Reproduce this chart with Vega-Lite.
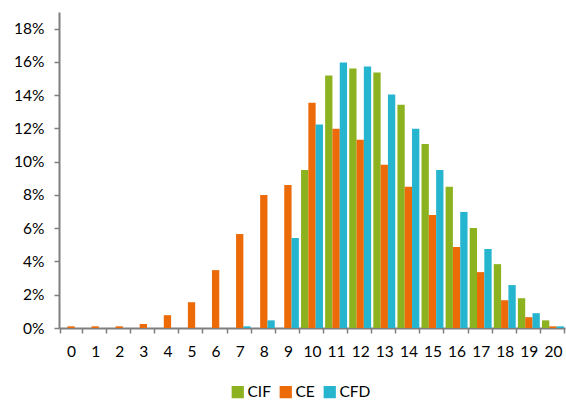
{
  "$schema": "https://vega.github.io/schema/vega-lite/v6.json",
  "autosize": {"type": "none"},
  "width": 506,
  "height": 316,
  "padding": {"left": 59, "top": 12, "right": 1, "bottom": 73},
  "config": {
    "font": "Lato",
    "view": {"stroke": null},
    "axis": {"labelFont": "Lato", "labelFontSize": 15.5, "labelColor": "#000000", "domainColor": "#7f7f7f", "domainWidth": 2, "tickColor": "#7f7f7f", "tickWidth": 1.5, "grid": false, "title": null}
  },
  "data": {"values": [
    {"k": 0, "s": "CIF", "v": 0}, {"k": 0, "s": "CE", "v": 0.001}, {"k": 0, "s": "CFD", "v": 0},
    {"k": 1, "s": "CIF", "v": 0}, {"k": 1, "s": "CE", "v": 0.001}, {"k": 1, "s": "CFD", "v": 0},
    {"k": 2, "s": "CIF", "v": 0}, {"k": 2, "s": "CE", "v": 0.001}, {"k": 2, "s": "CFD", "v": 0},
    {"k": 3, "s": "CIF", "v": 0}, {"k": 3, "s": "CE", "v": 0.0024}, {"k": 3, "s": "CFD", "v": 0},
    {"k": 4, "s": "CIF", "v": 0}, {"k": 4, "s": "CE", "v": 0.0077}, {"k": 4, "s": "CFD", "v": 0},
    {"k": 5, "s": "CIF", "v": 0}, {"k": 5, "s": "CE", "v": 0.0155}, {"k": 5, "s": "CFD", "v": 0},
    {"k": 6, "s": "CIF", "v": 0}, {"k": 6, "s": "CE", "v": 0.0348}, {"k": 6, "s": "CFD", "v": 0},
    {"k": 7, "s": "CIF", "v": 0}, {"k": 7, "s": "CE", "v": 0.0565}, {"k": 7, "s": "CFD", "v": 0.001},
    {"k": 8, "s": "CIF", "v": 0}, {"k": 8, "s": "CE", "v": 0.080}, {"k": 8, "s": "CFD", "v": 0.0046},
    {"k": 9, "s": "CIF", "v": 0}, {"k": 9, "s": "CE", "v": 0.086}, {"k": 9, "s": "CFD", "v": 0.0541},
    {"k": 10, "s": "CIF", "v": 0.095}, {"k": 10, "s": "CE", "v": 0.1355}, {"k": 10, "s": "CFD", "v": 0.1223},
    {"k": 11, "s": "CIF", "v": 0.1518}, {"k": 11, "s": "CE", "v": 0.1198}, {"k": 11, "s": "CFD", "v": 0.1597},
    {"k": 12, "s": "CIF", "v": 0.156}, {"k": 12, "s": "CE", "v": 0.1132}, {"k": 12, "s": "CFD", "v": 0.1572},
    {"k": 13, "s": "CIF", "v": 0.1536}, {"k": 13, "s": "CE", "v": 0.0981}, {"k": 13, "s": "CFD", "v": 0.1404},
    {"k": 14, "s": "CIF", "v": 0.1343}, {"k": 14, "s": "CE", "v": 0.0849}, {"k": 14, "s": "CFD", "v": 0.1198},
    {"k": 15, "s": "CIF", "v": 0.1107}, {"k": 15, "s": "CE", "v": 0.068}, {"k": 15, "s": "CFD", "v": 0.095},
    {"k": 16, "s": "CIF", "v": 0.0849}, {"k": 16, "s": "CE", "v": 0.0487}, {"k": 16, "s": "CFD", "v": 0.0698},
    {"k": 17, "s": "CIF", "v": 0.0601}, {"k": 17, "s": "CE", "v": 0.0336}, {"k": 17, "s": "CFD", "v": 0.0475},
    {"k": 18, "s": "CIF", "v": 0.0384}, {"k": 18, "s": "CE", "v": 0.0167}, {"k": 18, "s": "CFD", "v": 0.0258},
    {"k": 19, "s": "CIF", "v": 0.0179}, {"k": 19, "s": "CE", "v": 0.0065}, {"k": 19, "s": "CFD", "v": 0.0089},
    {"k": 20, "s": "CIF", "v": 0.0046}, {"k": 20, "s": "CE", "v": 0.001}, {"k": 20, "s": "CFD", "v": 0.001}
  ]},
  "mark": {"type": "bar"},
  "encoding": {
    "x": {
      "field": "k", "type": "ordinal",
      "scale": {"paddingInner": 0.09, "paddingOuter": 0.045},
      "axis": {"labelAngle": 0, "tickBand": "extent", "tickSize": 5, "labelPadding": 11}
    },
    "xOffset": {"field": "s", "type": "nominal", "sort": ["CIF", "CE", "CFD"], "scale": {"paddingInner": 0, "paddingOuter": 0}},
    "y": {
      "field": "v", "type": "quantitative",
      "scale": {"domain": [0, 0.19], "nice": false},
      "axis": {"format": ".0%", "values": [0, 0.02, 0.04, 0.06, 0.08, 0.1, 0.12, 0.14, 0.16, 0.18], "tickSize": 5, "labelPadding": 10}
    },
    "color": {
      "field": "s", "type": "nominal", "sort": ["CIF", "CE", "CFD"],
      "scale": {"domain": ["CIF", "CE", "CFD"], "range": ["#8db21f", "#ec6a08", "#26b5cf"]},
      "legend": {"orient": "none", "legendX": 171, "legendY": 372, "direction": "horizontal", "title": null, "symbolType": "square", "symbolSize": 150, "symbolStrokeWidth": 0, "labelFontSize": 15.5, "labelFont": "Lato", "labelColor": "#000000", "columnPadding": 7, "labelOffset": 2}
    }
  }
}
